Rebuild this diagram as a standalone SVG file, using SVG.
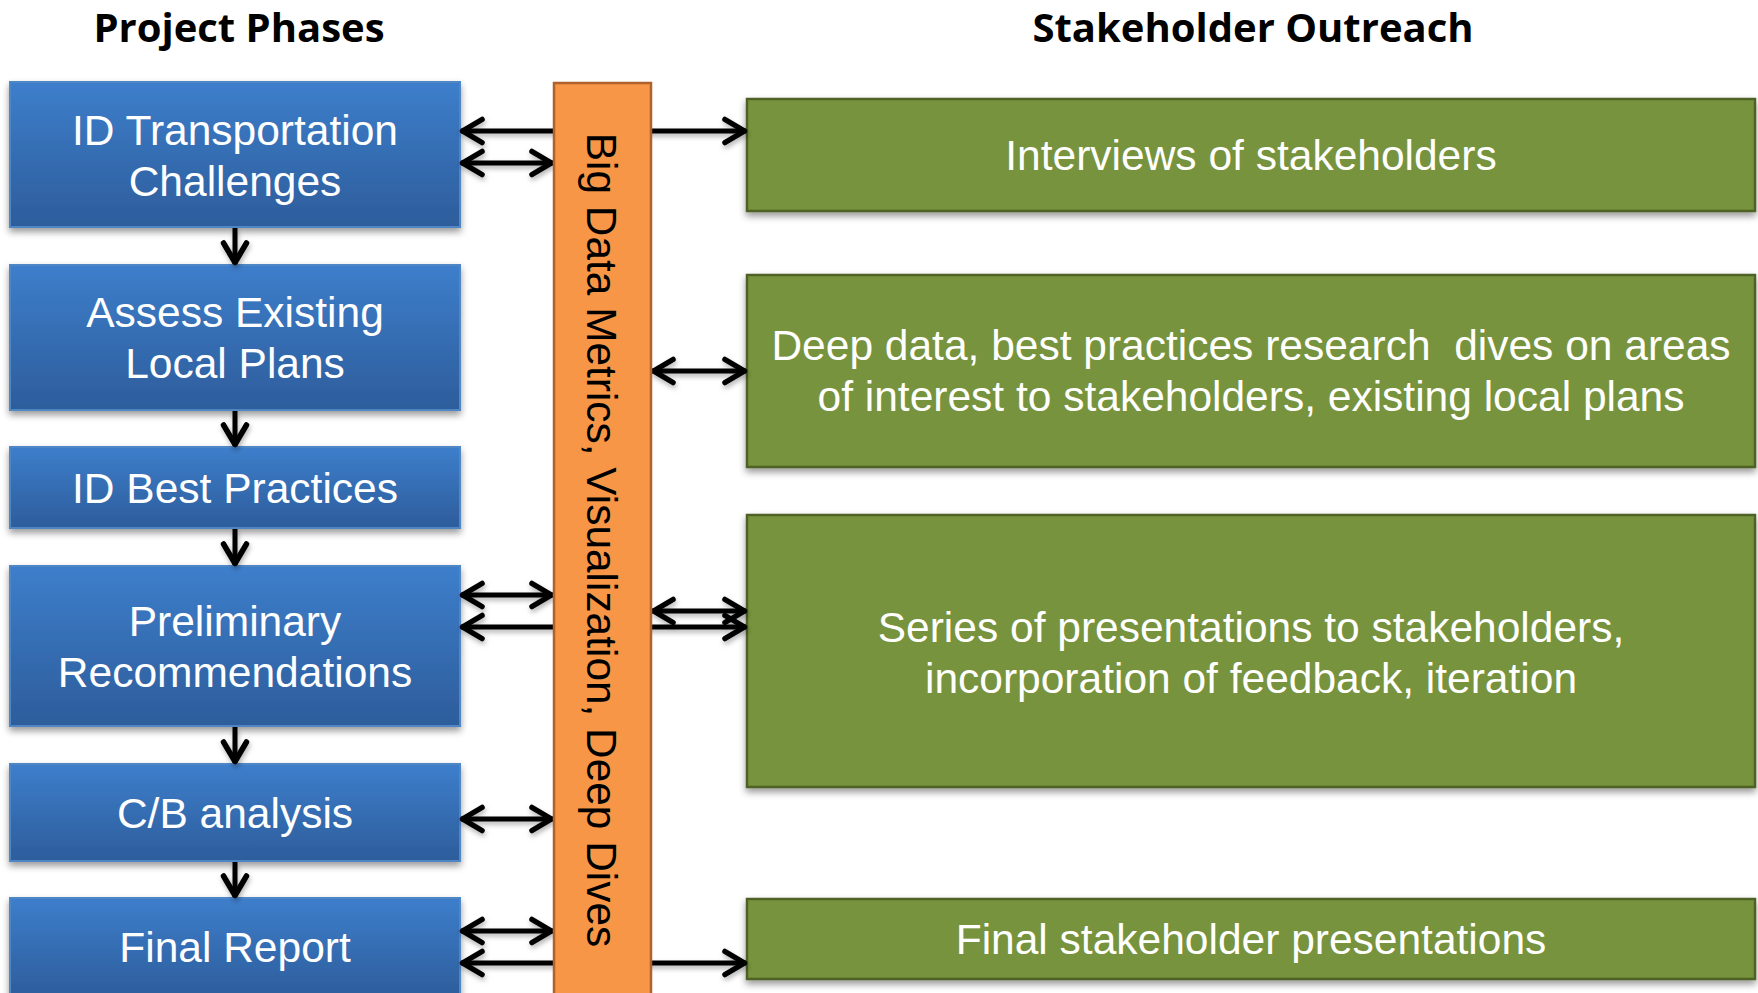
<svg xmlns="http://www.w3.org/2000/svg" width="1758" height="993" viewBox="0 0 1758 993">
  <style>
    .title { font-family: "Open Sans", "Liberation Sans", sans-serif; font-weight: 700; font-size: 40px; fill: #000; text-anchor: middle; }
    .phase rect { fill: url(#blueFill); stroke: #4f86c6; stroke-width: 2; filter: url(#boxShadow); }
    .phase text, .outreach text { font-family: "Liberation Sans", Arial, sans-serif; font-size: 42.5px; fill: #fff; text-anchor: middle; white-space: pre; }
    .outreach rect { fill: #77933c; stroke: #4f6228; stroke-width: 2.5; filter: url(#boxShadow); }
    .bar rect { fill: #f79646; stroke: #b0622a; stroke-width: 2.5; }
    .bar text { font-family: "Liberation Sans", Arial, sans-serif; font-size: 42.4px; fill: #000; text-anchor: middle; }
    .conn { fill: none; stroke: #000; stroke-width: 5; }
  </style>
  <defs>
    <linearGradient id="blueFill" x1="0" y1="0" x2="0" y2="1">
      <stop offset="0" stop-color="#3d7ecb"/>
      <stop offset="1" stop-color="#2d5d9b"/>
    </linearGradient>
    <filter id="boxShadow" x="-5%" y="-10%" width="110%" height="130%">
      <feDropShadow dx="0" dy="4" stdDeviation="3.5" flood-color="#000" flood-opacity="0.4"/>
    </filter>
    <filter id="lineShadow" x="-10%" y="-50%" width="120%" height="200%">
      <feDropShadow dx="1" dy="3" stdDeviation="2.5" flood-color="#000" flood-opacity="0.3"/>
    </filter>
    <marker id="head" viewBox="-26 -15 30 30" refX="0" refY="0" markerWidth="30" markerHeight="30" markerUnits="userSpaceOnUse" orient="auto-start-reverse">
      <path d="M-21,-11.5 L-1.5,0 L-21,11.5" fill="none" stroke="#000" stroke-width="5.5" stroke-linecap="round" stroke-linejoin="round"/>
    </marker>
  </defs>

  <rect width="1758" height="993" fill="#fff"/>

  <!-- column headings -->
  <text class="title" x="239" y="42">Project Phases</text>
  <text class="title" x="1253" y="42">Stakeholder Outreach</text>

  <!-- project phases (left column) -->
  <g id="phase-challenges" class="phase">
    <rect x="10" y="82" width="450" height="145"/>
    <text x="235" y="145">ID Transportation</text>
    <text x="235" y="196">Challenges</text>
  </g>
  <g id="phase-local-plans" class="phase">
    <rect x="10" y="265" width="450" height="145"/>
    <text x="235" y="327">Assess Existing</text>
    <text x="235" y="378">Local Plans</text>
  </g>
  <g id="phase-best-practices" class="phase">
    <rect x="10" y="447" width="450" height="81"/>
    <text x="235" y="503">ID Best Practices</text>
  </g>
  <g id="phase-preliminary" class="phase">
    <rect x="10" y="566" width="450" height="160"/>
    <text x="235" y="636">Preliminary</text>
    <text x="235" y="687">Recommendations</text>
  </g>
  <g id="phase-cb-analysis" class="phase">
    <rect x="10" y="764" width="450" height="97"/>
    <text x="235" y="828">C/B analysis</text>
  </g>
  <g id="phase-final-report" class="phase">
    <rect x="10" y="898" width="450" height="100"/>
    <text x="235" y="962">Final Report</text>
  </g>

  <!-- stakeholder outreach (right column) -->
  <g id="outreach-interviews" class="outreach">
    <rect x="747" y="99" width="1008" height="112"/>
    <text x="1251" y="170">Interviews of stakeholders</text>
  </g>
  <g id="outreach-deep-dives" class="outreach">
    <rect x="747" y="275" width="1008" height="192"/>
    <text x="1251" y="360">Deep data, best practices research  dives on areas</text>
    <text x="1251" y="411">of interest to stakeholders, existing local plans</text>
  </g>
  <g id="outreach-presentations" class="outreach">
    <rect x="747" y="515" width="1008" height="272"/>
    <text x="1251" y="642">Series of presentations to stakeholders,</text>
    <text x="1251" y="693">incorporation of feedback, iteration</text>
  </g>
  <g id="outreach-final" class="outreach">
    <rect x="747" y="899" width="1008" height="80"/>
    <text x="1251" y="954">Final stakeholder presentations</text>
  </g>

  <!-- connectors -->
  <g id="connectors" filter="url(#lineShadow)">
    <!-- phase sequence -->
    <line class="conn" x1="235" y1="228" x2="235" y2="264" marker-end="url(#head)"/>
    <line class="conn" x1="235" y1="411" x2="235" y2="446" marker-end="url(#head)"/>
    <line class="conn" x1="235" y1="529" x2="235" y2="565" marker-end="url(#head)"/>
    <line class="conn" x1="235" y1="727" x2="235" y2="763" marker-end="url(#head)"/>
    <line class="conn" x1="235" y1="862" x2="235" y2="897" marker-end="url(#head)"/>
    <!-- links through the metrics bar -->
    <line class="conn" x1="461" y1="131" x2="746" y2="131" marker-start="url(#head)" marker-end="url(#head)"/>
    <line class="conn" x1="461" y1="163" x2="553" y2="163" marker-start="url(#head)" marker-end="url(#head)"/>
    <line class="conn" x1="652" y1="371" x2="746" y2="371" marker-start="url(#head)" marker-end="url(#head)"/>
    <line class="conn" x1="461" y1="595" x2="553" y2="595" marker-start="url(#head)" marker-end="url(#head)"/>
    <line class="conn" x1="652" y1="611" x2="746" y2="611" marker-start="url(#head)" marker-end="url(#head)"/>
    <line class="conn" x1="461" y1="627" x2="746" y2="627" marker-start="url(#head)" marker-end="url(#head)"/>
    <line class="conn" x1="461" y1="819" x2="553" y2="819" marker-start="url(#head)" marker-end="url(#head)"/>
    <line class="conn" x1="461" y1="931" x2="553" y2="931" marker-start="url(#head)" marker-end="url(#head)"/>
    <line class="conn" x1="461" y1="963" x2="746" y2="963" marker-start="url(#head)" marker-end="url(#head)"/>
  </g>

  <!-- shared metrics bar -->
  <g id="metrics-bar" class="bar">
    <rect x="554" y="83" width="97" height="930"/>
    <text transform="translate(587,540) rotate(90)">Big Data Metrics, Visualization, Deep Dives</text>
  </g>
</svg>
